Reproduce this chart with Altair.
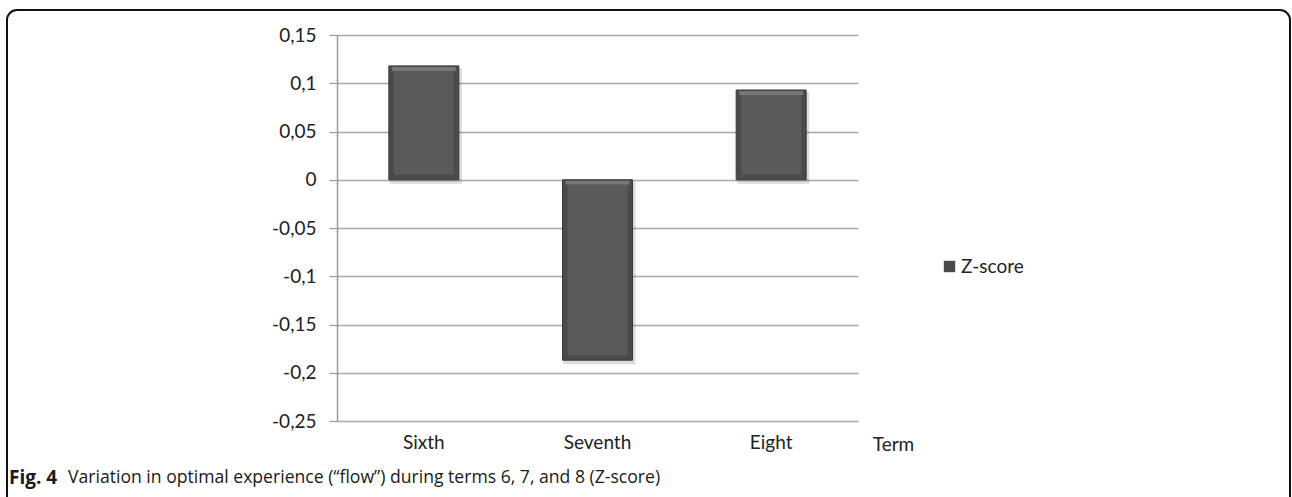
import altair as alt
import pandas as pd

# Z-score of optimal experience ("flow") per term
terms = ["Sixth", "Seventh", "Eight"]
zscores = [0.118, -0.187, 0.093]
series_name = "Z-score"
y_ticks = [0.15, 0.1, 0.05, 0, -0.05, -0.1, -0.15, -0.2, -0.25]

caption_bold = "Fig. 4"
caption_text = "Variation in optimal experience (\u201cflow\u201d) during terms 6, 7, and 8 (Z-score)"
x_title = "Term"

df = pd.DataFrame({"term": terms, "z": zscores, "series": series_name})

W, H = 521, 386
FONT = "Lato"
FS = 19
TXT = "#222222"

x_enc = alt.X(
    "term:N",
    sort=terms,
    scale=alt.Scale(paddingInner=0.6, paddingOuter=0.3),
    axis=alt.Axis(
        title=x_title,
        titleX=556,
        titleY=23,
        titleAngle=0,
        titleBaseline="middle",
        titleAlign="center",
        titleFont=FONT,
        titleFontSize=FS,
        titleFontWeight="normal",
        titleColor=TXT,
        labelAngle=0,
        labelFont=FONT,
        labelFontSize=FS,
        labelColor=TXT,
        labelPadding=12,
        ticks=False,
        domain=False,
    ),
)

y_scale = alt.Scale(domain=[-0.25, 0.15], nice=False, zero=False)

base = alt.Chart(df).transform_calculate(
    top="max(datum.z, 0)", bottom="min(datum.z, 0)"
)

# soft drop shadow under each bar
shadow = base.mark_bar(size=72, color="#000000", opacity=0.14, xOffset=2, yOffset=2, y2Offset=4).encode(
    x=x_enc,
    y=alt.Y("top:Q", scale=y_scale),
    y2="bottom:Q",
)

# bar body (dark rim) that carries the legend entry
body = base.mark_bar(size=70, stroke="#3a3a3a", strokeWidth=1).encode(
    x=x_enc,
    y=alt.Y(
        "top:Q",
        scale=y_scale,
        title=None,
        axis=alt.Axis(
            values=y_ticks,
            labelExpr="replace(replace(format(datum.value, '.2~f'), '.', ','), '\u2212', '-')",
            labelFont=FONT,
            labelFontSize=FS,
            labelColor=TXT,
            labelPadding=13,
            tickSize=8,
            tickColor="#9a9a9a",
            tickWidth=1.2,
            domainColor="#9a9a9a",
            domainWidth=1.5,
            grid=True,
            gridColor="#a8a8a8",
            gridWidth=1.3,
        ),
    ),
    y2="bottom:Q",
    color=alt.Color(
        "series:N",
        scale=alt.Scale(domain=[series_name], range=["#4a4a4a"]),
        legend=alt.Legend(
            title=None,
            orient="none",
            legendX=603,
            legendY=222,
            symbolType="square",
            symbolSize=130,
            symbolStrokeWidth=0,
            labelFont=FONT,
            labelFontSize=FS,
            labelColor=TXT,
            labelOffset=2,
        ),
    ),
)

# beveled face inside the rim
face = base.mark_bar(size=60, color="#5a5a5a", yOffset=5, y2Offset=-5).encode(
    x=x_enc,
    y=alt.Y("top:Q", scale=y_scale),
    y2="bottom:Q",
)

# light upper bevel
highlight = base.mark_bar(size=64, color="#777777", yOffset=1, y2Offset=5).encode(
    x=x_enc,
    y=alt.Y("top:Q", scale=y_scale),
    y2=alt.Y2("top:Q"),
)

caption_df = pd.DataFrame({"bold": [caption_bold], "text": [caption_text]})
cap_bold = alt.Chart(caption_df).mark_text(
    align="left", baseline="middle", font="Open Sans", fontSize=19, fontWeight="bold", color="#1a1a1a"
).encode(text="bold:N", x=alt.value(-328), y=alt.value(443))
cap_text = alt.Chart(caption_df).mark_text(
    align="left", baseline="middle", font="Open Sans", fontSize=17.6, color="#1a1a1a"
).encode(text="text:N", x=alt.value(-269), y=alt.value(443))

# rounded frame around the figure
frame = alt.Chart(caption_df).mark_rect(
    fillOpacity=0, stroke="#111111", strokeWidth=2, cornerRadius=10
).encode(x=alt.value(-330), x2=alt.value(953), y=alt.value(-25), y2=alt.value(480))

chart = (
    alt.layer(frame, shadow, body, highlight, face, cap_bold, cap_text)
    .properties(
        width=W,
        height=H,
        autosize=alt.AutoSizeParams(type="none"),
        padding={"left": 337, "top": 35, "right": 434, "bottom": 76},
        background="white",
    )
    .configure_view(stroke=None)
)

chart.save("out.html", embed_options={"renderer": "svg", "actions": False})
